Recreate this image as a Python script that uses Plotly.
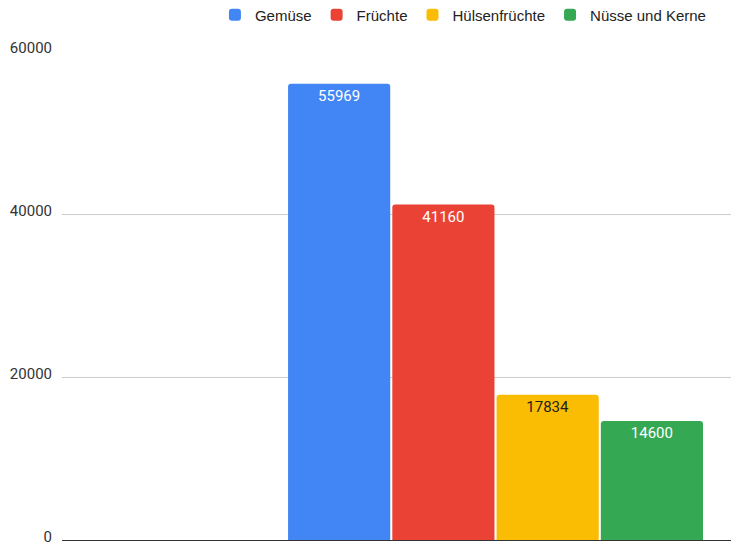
import plotly.graph_objects as go

categories = [""]
series_names = ["Gemüse", "Früchte", "Hülsenfrüchte", "Nüsse und Kerne"]
series_values = [[55969], [41160], [17834], [14600]]
colors = ["#4285F4", "#EA4335", "#FBBC04", "#34A853"]
text_colors = ["#ffffff", "#ffffff", "#222222", "#ffffff"]
y_ticks = [0, 20000, 40000, 60000]

fig = go.Figure()
for name, vals, c, tc in zip(series_names, series_values, colors, text_colors):
    fig.add_trace(go.Bar(
        x=[0], y=vals, name=name,
        marker=dict(color=c, line=dict(width=0), cornerradius=3),
        text=[str(v) for v in vals], textposition="inside",
        insidetextanchor="end", textangle=0,
        textfont=dict(family="Roboto", size=15, color=tc),
    ))

fig.update_layout(
    width=739, height=546,
    margin=dict(l=54, r=8, t=43, b=14),
    paper_bgcolor="white", plot_bgcolor="white",
    barmode="group", bargap=0.2, bargroupgap=0.02,
    font=dict(family="Roboto", size=15, color="#333333"),
    showlegend=True,
    legend=dict(orientation="h", xref="container", yref="container",
                x=0.28, xanchor="left", y=1 - 7 / 546, yanchor="middle",
                font=dict(family="Liberation Sans", size=15, color="#222222"),
                itemwidth=30, traceorder="normal", bgcolor="rgba(0,0,0,0)"),
    uniformtext=dict(mode=False),
)
fig.update_xaxes(range=[-0.8317, 0.4671], showticklabels=False, showgrid=False,
                 zeroline=False, showline=False, automargin=False)
fig.update_yaxes(range=[0, 60000], tickvals=y_ticks, ticktext=[str(t) for t in y_ticks],
                 showgrid=True, gridcolor="#cccccc", gridwidth=1,
                 zeroline=True, zerolinecolor="#333333", zerolinewidth=1,
                 ticks="", ticklabelstandoff=9, ticklabelshift=-3, showline=False,
                 automargin=False,
                 tickfont=dict(family="Roboto", size=15, color="#333333"))
fig.write_html("out.html")
